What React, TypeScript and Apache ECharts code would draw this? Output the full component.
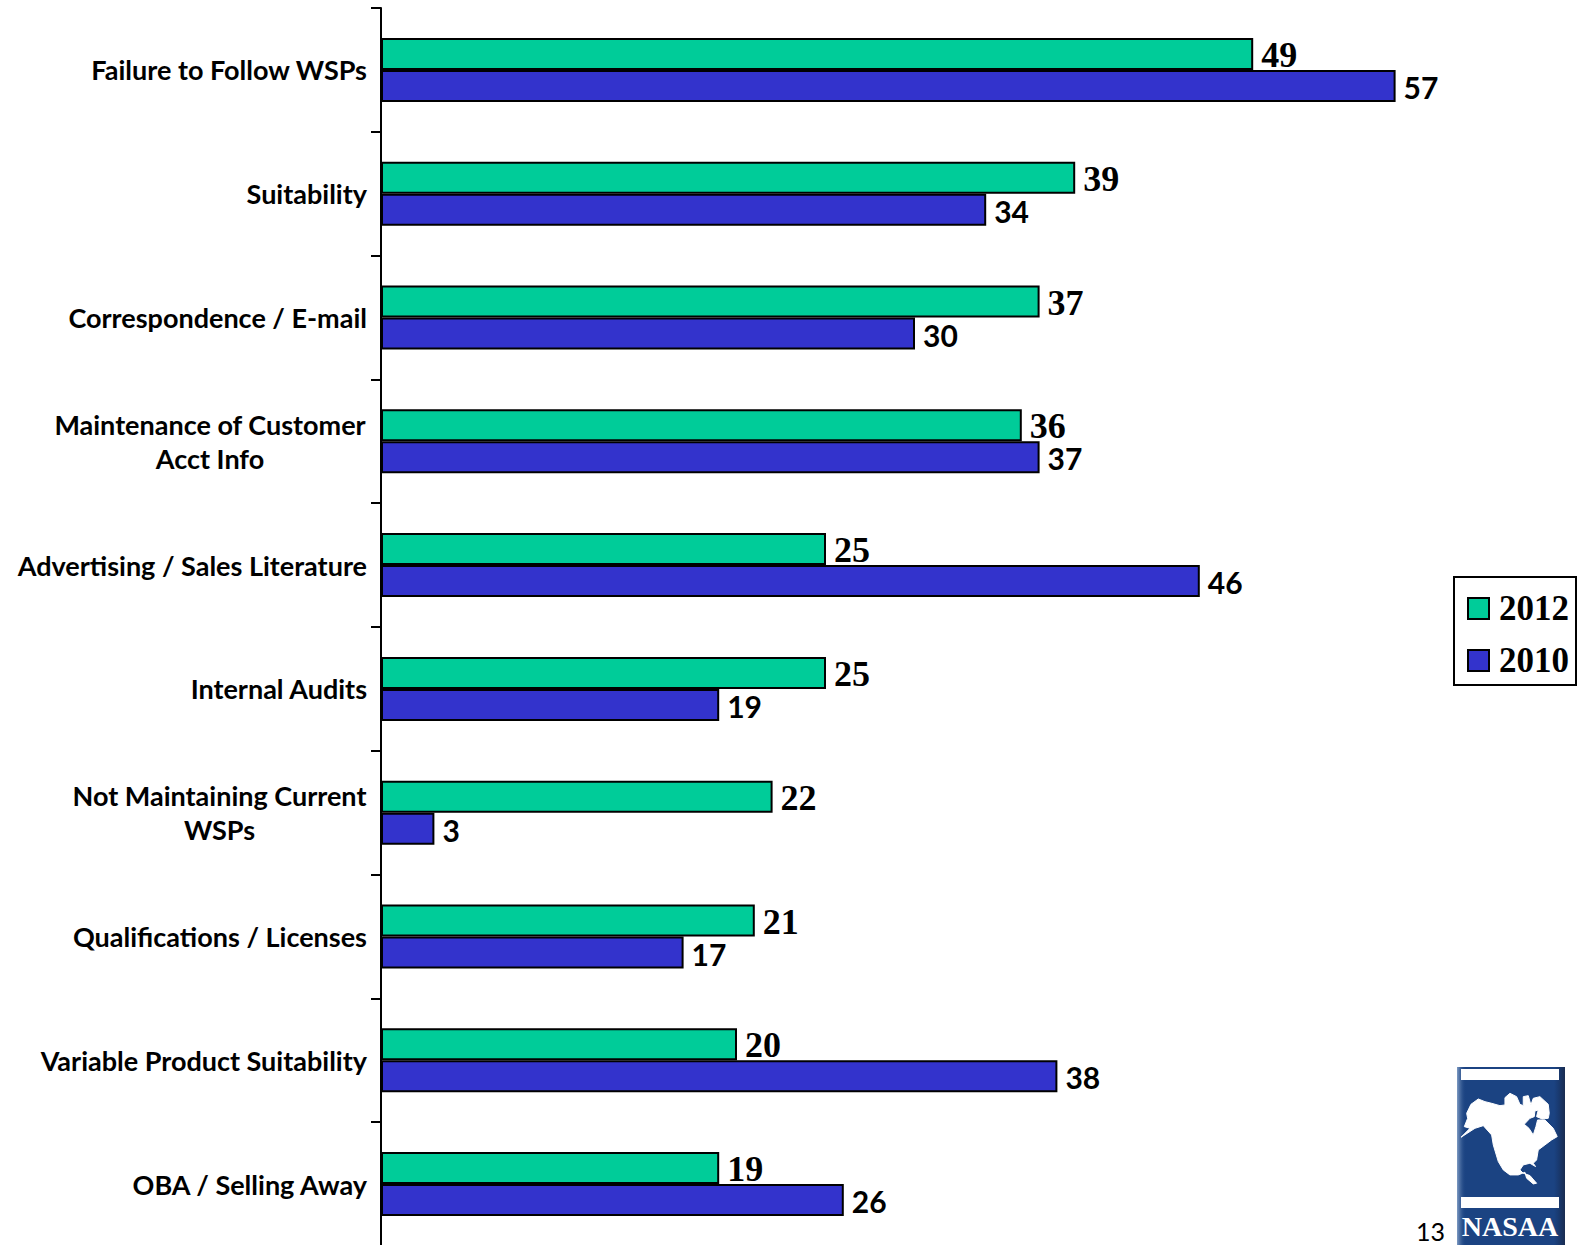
import React, { useEffect, useRef } from "react";
import * as echarts from "echarts";

const categories = [
  "Failure to Follow WSPs",
  "Suitability",
  "Correspondence / E-mail",
  "Maintenance of Customer\nAcct Info",
  "Advertising / Sales Literature",
  "Internal Audits",
  "Not Maintaining Current\nWSPs",
  "Qualifications / Licenses",
  "Variable Product Suitability",
  "OBA / Selling Away",
];
const values2012 = [49, 39, 37, 36, 25, 25, 22, 21, 20, 19];
const values2010 = [57, 34, 30, 37, 46, 19, 3, 17, 38, 26];

const GREEN = "#00CC99";
const BLUE = "#3333CC";
const NAVY = "#1B4382";
const SANS = "Lato";
const SERIF = "'Liberation Serif'";

// Simplified outline of North America for the NASAA badge.
const CONTINENT =
  "M18 157L45 130L28 125L38 100L35 85L48 58L70 42L90 50L110 55L135 62L150 60L150 38L165 25L185 35L195 58L205 62L205 35L220 32L228 60L235 40L255 35L280 58L283 85L280 100L262 102L245 95L250 75L240 78L238 95L225 100L208 118L222 130L235 150L243 125L248 105L270 105L295 130L307 155L290 165L270 180L250 195L245 225L235 235L242 245L225 235L205 240L195 255L205 265L225 272L245 295L235 297L215 280L210 262L190 270L165 270L145 255L130 230L115 180L110 150L85 122L60 130Z";
echarts.graphic.registerShape("continent", echarts.graphic.extendPath(CONTINENT, {}) as any);

const edge = (x: number, w: number, from: string, to: string) => ({
  type: "rect",
  shape: { x, y: 1067, width: w, height: 178 },
  style: {
    fill: new echarts.graphic.LinearGradient(0, 0, 1, 0, [
      { offset: 0, color: from },
      { offset: 1, color: to },
    ]),
  },
});

const badge = [
  { type: "rect", shape: { x: 1457, y: 1067, width: 108, height: 178 }, style: { fill: NAVY } },
  edge(1457, 9, "#7F9CC4", "rgba(27,67,130,0)"),
  edge(1554, 11, "rgba(20,45,90,0)", "#1A2C50"),
  { type: "rect", shape: { x: 1461, y: 1069, width: 98, height: 11 }, style: { fill: "#fff" } },
  { type: "rect", shape: { x: 1461, y: 1197, width: 98, height: 11 }, style: { fill: "#fff" } },
  {
    type: "continent",
    x: 1455,
    y: 1085,
    scaleX: 1 / 3,
    scaleY: 1 / 3,
    style: { fill: "#fff", stroke: "#fff", lineWidth: 3 },
  },
  {
    type: "text",
    x: 1510,
    y: 1226,
    style: {
      text: "NASAA",
      fill: "#fff",
      font: `bold 28px ${SERIF}`,
      textAlign: "center",
      textVerticalAlign: "middle",
    },
  },
  {
    type: "text",
    x: 1416,
    y: 1231,
    style: {
      text: "13",
      fill: "#000",
      font: `25px ${SANS}`,
      textAlign: "left",
      textVerticalAlign: "middle",
    },
  },
];

const barStyle = (color: string) => ({ color, borderColor: "#000", borderWidth: 2 });

const labelFont = { fontFamily: SANS, fontWeight: "bold", fontSize: 27, lineHeight: 34 };

export default function App() {
  const ref = useRef<HTMLDivElement>(null);

  useEffect(() => {
    const chart = echarts.init(ref.current!, undefined, { renderer: "svg" });
    chart.setOption({
      animation: false,
      backgroundColor: "#fff",
      // The axis runs past the bottom of the page, so the grid is not held inside the canvas.
      grid: { left: 381, top: 8, width: 1068, height: 1238, containLabel: false, outerBoundsMode: "none" },
      xAxis: { type: "value", min: 0, max: 60, show: false },
      yAxis: {
        type: "category",
        inverse: true,
        data: categories,
        axisLine: { show: true, lineStyle: { color: "#000", width: 2 } },
        axisTick: { show: true, alignWithLabel: false, length: 10, lineStyle: { color: "#000", width: 2 } },
        axisLabel: {
          margin: 14,
          color: "#000",
          ...labelFont,
          interval: 0,
          formatter: (v: string) => {
            const lines = v.split("\n");
            if (lines.length === 1) return `{p|${v}}`;
            const style = lines[0].startsWith("Maint") ? "a" : "b";
            return lines.map((l) => `{${style}|${l}}`).join("\n");
          },
          rich: {
            p: { ...labelFont },
            a: { ...labelFont, width: 314, align: "center" },
            b: { ...labelFont, width: 295, align: "center" },
          },
        },
      },
      legend: {
        orient: "vertical",
        left: 1454,
        top: 577,
        data: ["2012", "2010"],
        itemWidth: 21,
        itemHeight: 21,
        itemGap: 17,
        padding: [14, 7, 7, 13],
        backgroundColor: "#fff",
        borderColor: "#000",
        borderWidth: 2,
        borderRadius: 0,
        icon: "rect",
        textStyle: {
          color: "#000",
          fontFamily: SERIF,
          fontWeight: "bold",
          fontSize: 35,
          padding: [0, 0, 0, 5],
        },
      },
      series: [
        {
          name: "2012",
          type: "bar",
          data: values2012,
          barWidth: 32,
          barGap: 0,
          itemStyle: barStyle(GREEN),
          label: {
            show: true,
            position: "right",
            distance: 8,
            offset: [0, 1],
            color: "#000",
            fontFamily: SERIF,
            fontWeight: "bold",
            fontSize: 36,
            lineHeight: 28,
          },
        },
        {
          name: "2010",
          type: "bar",
          data: values2010,
          barWidth: 32,
          barGap: 0,
          itemStyle: barStyle(BLUE),
          label: {
            show: true,
            position: "right",
            distance: 8,
            offset: [0, 1],
            color: "#000",
            fontFamily: SANS,
            fontWeight: "bold",
            fontSize: 30,
            lineHeight: 28,
          },
        },
      ],
      graphic: { elements: badge },
    });
    return () => chart.dispose();
  }, []);

  return <div ref={ref} style={{ position: "fixed", left: 0, top: 0, width: 1585, height: 1245 }} />;
}
